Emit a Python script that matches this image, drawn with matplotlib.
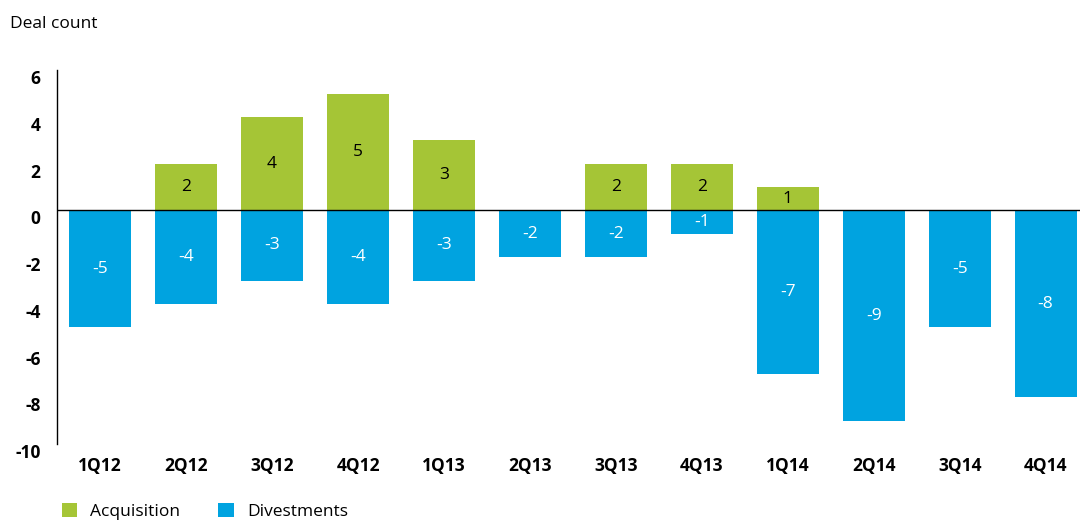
import matplotlib.pyplot as plt
import matplotlib.transforms as mtransforms
import numpy as np

plt.rcParams['font.family'] = ['Open Sans', 'DejaVu Sans']
plt.rcParams['axes.unicode_minus'] = False

quarters = ['1Q12', '2Q12', '3Q12', '4Q12', '1Q13', '2Q13', '3Q13', '4Q13', '1Q14', '2Q14', '3Q14', '4Q14']
acquisition = [0, 2, 4, 5, 3, 0, 2, 2, 1, 0, 0, 0]
divestments = [-5, -4, -3, -4, -3, -2, -2, -1, -7, -9, -5, -8]

green = '#a5c536'
blue = '#00a3e0'

fig = plt.figure(figsize=(10.8, 5.2), dpi=100)
ax = fig.add_axes([0.053, 0.146, 0.947, 0.719])

x = np.arange(len(quarters))
b1 = ax.bar(x, acquisition, width=0.72, color=green, label='Acquisition')
b2 = ax.bar(x, divestments, width=0.72, color=blue, label='Divestments')

# value labels in the middle of each bar
for xi, v in zip(x, acquisition):
    if v != 0:
        ax.text(xi, v / 2, str(v), ha='center', va='center', fontsize=12.5, color='black')
for xi, v in zip(x, divestments):
    ax.text(xi, v / 2, str(v), ha='center', va='center', fontsize=12.5, color='white')

ax.axhline(0, color='black', lw=1.0)
ax.set_xlim(-0.5, 11.4)
ax.set_ylim(-10, 6)
ax.set_yticks(range(-10, 7, 2))
ax.set_xticks(x)
ax.set_xticklabels(quarters)

for s in ['top', 'right', 'bottom']:
    ax.spines[s].set_visible(False)
ax.spines['left'].set_linewidth(1.0)
ax.tick_params(axis='both', length=0, labelsize=12.5)
ax.tick_params(axis='y', pad=12)
ax.tick_params(axis='x', pad=9)
for lab in ax.get_yticklabels() + ax.get_xticklabels():
    lab.set_fontweight('bold')
off = mtransforms.ScaledTranslation(0, -5 / 72, fig.dpi_scale_trans)
for lab in ax.get_yticklabels():
    lab.set_transform(lab.get_transform() + off)

fig.text(0.009, 0.953, 'Deal count', fontsize=12.5, ha='left', va='center')

fig.legend(handles=[b1, b2], loc='center left', bbox_to_anchor=(0.0425, 0.016),
           ncol=2, frameon=False, fontsize=12.5, handlelength=0.9, handleheight=0.9,
           handletextpad=0.75, columnspacing=2.2)

fig.savefig('out.png', dpi=100)
